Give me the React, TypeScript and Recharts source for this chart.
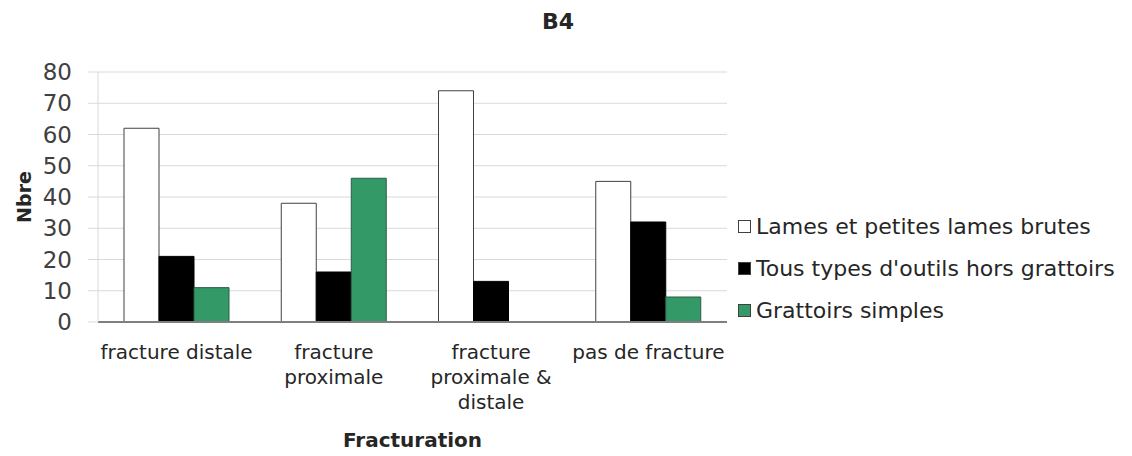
import React from 'react';
import { BarChart, Bar, XAxis, YAxis, CartesianGrid, Legend, Label } from 'recharts';

const categories = ['fracture distale', 'fracture\nproximale', 'fracture\nproximale &\ndistale', 'pas de fracture'];
const lames = [62, 38, 74, 45];
const outils = [21, 16, 13, 32];
const grattoirs = [11, 46, 0, 8];
const yTicks = [0, 10, 20, 30, 40, 50, 60, 70, 80];

const seriesNames = ['Lames et petites lames brutes', "Tous types d'outils hors grattoirs", 'Grattoirs simples'];
const seriesColors = ['#ffffff', '#000000', '#339966'];

const data = categories.map((c, i) => ({
    name: c,
    lames: lames[i],
    outils: outils[i],
    grattoirs: grattoirs[i],
}));

const FONT = '"DejaVu Sans", sans-serif';

const CategoryTick = ({ x, y, payload }: any) => {
    const lines = String(payload.value).split('\n');
    return (
        <text x={x} y={y} textAnchor="middle" fill="#262626" fontSize={20} fontFamily={FONT}>
            {lines.map((l, i) => (
                <tspan key={i} x={x} dy={i === 0 ? 37 : 25}>
                    {l}
                </tspan>
            ))}
        </text>
    );
};

const LegendContent = () => (
    <div style={{ fontFamily: FONT, fontSize: 22, color: '#262626' }}>
        {seriesNames.map((n, i) => (
            <div key={n} style={{ height: 42, display: 'flex', alignItems: 'center' }}>
                <span
                    style={{
                        width: 11,
                        height: 11,
                        background: seriesColors[i],
                        border: '1px solid #404040',
                        marginRight: 5,
                        display: 'inline-block',
                    }}
                />
                <span style={{ whiteSpace: 'nowrap' }}>{n}</span>
            </div>
        ))}
    </div>
);

export default function App() {
    return (
        <div style={{ position: 'relative', width: 1116, height: 446 }}>
            <div
                style={{
                    position: 'absolute',
                    left: 450,
                    width: 200,
                    top: 1,
                    textAlign: 'center',
                    fontFamily: FONT,
                    fontWeight: 'bold',
                    fontSize: 22,
                    lineHeight: '26px',
                    color: '#262626',
                }}
            >
                B4
            </div>
            <BarChart
                width={1116}
                height={446}
                data={data}
                margin={{ top: 64, right: 397, left: 30, bottom: 0 }}
                barGap={0}
                barSize={35}
            >
                <CartesianGrid vertical={false} stroke="#d9d9d9" />
                <XAxis
                    dataKey="name"
                    height={132}
                    axisLine={{ stroke: '#7f7f7f', strokeWidth: 2 }}
                    tickLine={false}
                    tickSize={0}
                    tickMargin={0}
                    interval={0}
                    tick={<CategoryTick />}
                >
                    <Label
                        content={({ viewBox }: any) => (
                            <text
                                x={viewBox.x + viewBox.width / 2}
                                y={viewBox.y + 125}
                                textAnchor="middle"
                                fontFamily={FONT}
                                fontWeight="bold"
                                fontSize={20}
                                fill="#262626"
                            >
                                Fracturation
                            </text>
                        )}
                    />
                </XAxis>
                <YAxis
                    width={60}
                    domain={[0, 80]}
                    ticks={yTicks}
                    interval={0}
                    axisLine={{ stroke: '#d9d9d9' }}
                    tickLine={{ stroke: '#d9d9d9' }}
                    tickSize={10}
                    tickMargin={16}
                    tick={{ fill: '#404040', fontSize: 23, fontFamily: FONT }}
                >
                    <Label
                        content={({ viewBox }: any) => {
                            const cx = viewBox.x - 14;
                            const cy = viewBox.y + viewBox.height / 2;
                            return (
                                <text
                                    x={cx}
                                    y={cy}
                                    transform={`rotate(-90, ${cx}, ${cy})`}
                                    textAnchor="middle"
                                    dominantBaseline="central"
                                    fontFamily={FONT}
                                    fontWeight="bold"
                                    fontSize={19}
                                    fill="#262626"
                                >
                                    Nbre
                                </text>
                            );
                        }}
                    />
                </YAxis>
                <Legend
                    layout="horizontal"
                    verticalAlign="middle"
                    align="center"
                    content={<LegendContent />}
                    wrapperStyle={{ left: 730, top: 197, width: 390 }}
                />
                <Bar dataKey="lames" name={seriesNames[0]} fill={seriesColors[0]} stroke="#404040" isAnimationActive={false} />
                <Bar dataKey="outils" name={seriesNames[1]} fill={seriesColors[1]} stroke="#000000" isAnimationActive={false} />
                <Bar dataKey="grattoirs" name={seriesNames[2]} fill={seriesColors[2]} stroke="#2d5c45" isAnimationActive={false} />
            </BarChart>
        </div>
    );
}
